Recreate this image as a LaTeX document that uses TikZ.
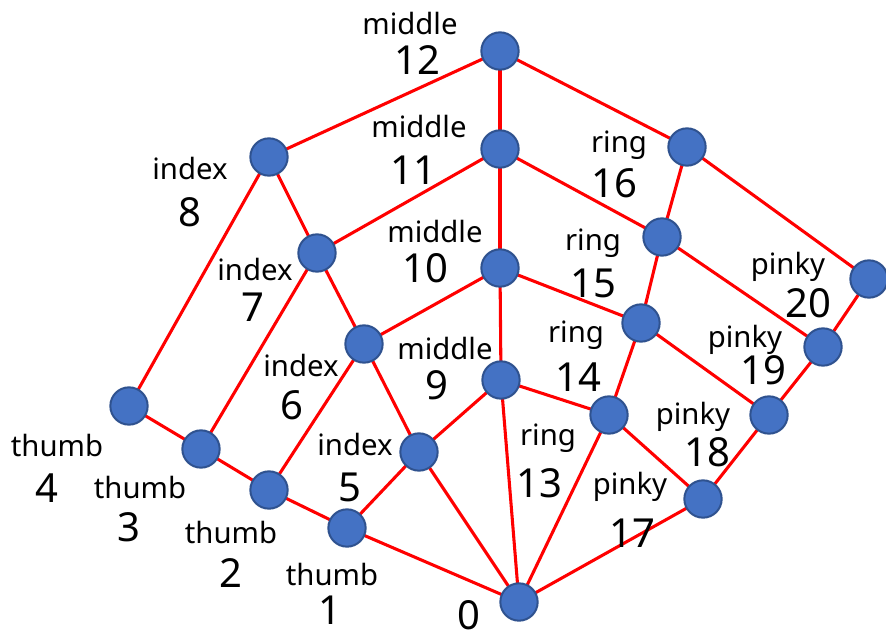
\documentclass[tikz,border=0pt]{standalone}
\usepackage{fontspec}
\setmainfont{Noto Sans}
\definecolor{jointblue}{HTML}{4472C4}
\definecolor{jointedge}{HTML}{2F528F}
\begin{document}
\begin{tikzpicture}[line cap=round,line join=round,x=0.75pt,y=-0.75pt,
	bone/.style={red,line width=2.3pt},
	joint/.style={circle,fill=jointblue,draw=jointedge,line width=1.5pt,minimum size=28pt,inner sep=0pt},
	fname/.style={inner sep=0pt,font=\fontsize{22}{26}\selectfont,text height=16pt,text depth=4.8pt},
	fnum/.style={inner sep=0pt,font=\fontsize{30}{36}\selectfont,text height=21.5pt,text depth=0pt}]
	\useasboundingbox (0,0) rectangle (886,639);
	% Khớp tay (tọa độ)
	\coordinate (J0) at (519,602);
	\coordinate (J1) at (347,528);
	\coordinate (J2) at (269,490);
	\coordinate (J3) at (201,449);
	\coordinate (J4) at (129,406);
	\coordinate (J5) at (419,452);
	\coordinate (J6) at (364,344);
	\coordinate (J7) at (317,253);
	\coordinate (J8) at (269,157);
	\coordinate (J9) at (501,380);
	\coordinate (J10) at (500,268);
	\coordinate (J11) at (500,149);
	\coordinate (J12) at (500,51);
	\coordinate (J13) at (609,415);
	\coordinate (J14) at (641,323);
	\coordinate (J15) at (662,237);
	\coordinate (J16) at (687,147);
	\coordinate (J17) at (703,499);
	\coordinate (J18) at (769,415);
	\coordinate (J19) at (823,347);
	\coordinate (J20) at (869,279);
	% Các ngón tay
	\foreach \a/\b in {0/1,1/2,2/3,3/4, 0/5,5/6,6/7,7/8, 0/9,9/10,10/11,11/12,
		0/13,13/14,14/15,15/16, 0/17,17/18,18/19,19/20} {
		\draw[bone] (J\a) -- (J\b);
	}
	% Nối ngang giữa các ngón
	\foreach \a/\b in {4/8,3/7,2/6,1/5, 8/12,7/11,6/10,5/9,
		12/16,11/15,10/14,9/13, 16/20,15/19,14/18,13/17} {
		\draw[bone] (J\a) -- (J\b);
	}
	% Vẽ các khớp
	\foreach \p in {0,...,20} {
		\node[joint] (K\p) at (J\p) {};
	}
	% Gắn nhãn
	\node[fnum] (n0) at (469,615) {0};
	\node[fname] (t1) at (332,578) {thumb};
	\node[fnum] (n1) at (330,610) {1};
	\node[fname] (t2) at (231,536) {thumb};
	\node[fnum] (n2) at (231,573) {2};
	\node[fname] (t3) at (140,491) {thumb};
	\node[fnum] (n3) at (129,527) {3};
	\node[fname] (t4) at (57,449) {thumb};
	\node[fnum] (n4) at (47,488) {4};
	\node[fname] (t5) at (355,448) {index};
	\node[fnum] (n5) at (350,487) {5};
	\node[fname] (t6) at (301,369) {index};
	\node[fnum] (n6) at (292,405) {6};
	\node[fname] (t7) at (255,273) {index};
	\node[fnum] (n7) at (253,307) {7};
	\node[fname] (t8) at (190,172) {index};
	\node[fnum] (n8) at (190,212) {8};
	\node[fname] (t9) at (445,352) {middle};
	\node[fnum] (n9) at (437,385) {9};
	\node[fname] (t10) at (435,235) {middle};
	\node[fnum] (n10) at (425,268) {10};
	\node[fname] (t11) at (419,130) {middle};
	\node[fnum] (n11) at (413,170) {11};
	\node[fname] (t12) at (410,27) {middle};
	\node[fnum] (n12) at (417,60) {12};
	\node[fname] (t13) at (548,438) {ring};
	\node[fnum] (n13) at (539,483) {13};
	\node[fname] (t14) at (576,335) {ring};
	\node[fnum] (n14) at (578,377) {14};
	\node[fname] (t15) at (593,243) {ring};
	\node[fnum] (n15) at (593,283) {15};
	\node[fname] (t16) at (619,145) {ring};
	\node[fnum] (n16) at (614,183) {16};
	\node[fname] (t17) at (630,487) {pinky};
	\node[fnum] (n17) at (632,533) {17};
	\node[fname] (t18) at (693,417) {pinky};
	\node[fnum] (n18) at (707,452) {18};
	\node[fname] (t19) at (745,340) {pinky};
	\node[fnum] (n19) at (763,370) {19};
	\node[fname] (t20) at (788,267) {pinky};
	\node[fnum] (n20) at (808,303) {20};
\end{tikzpicture}
\end{document}
